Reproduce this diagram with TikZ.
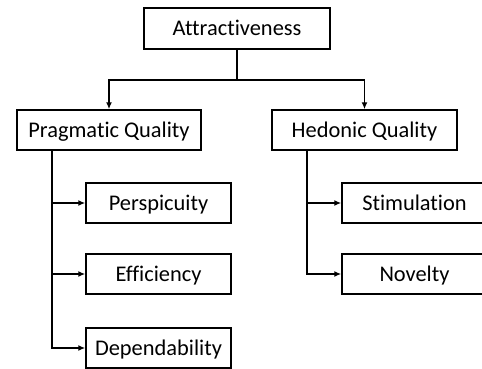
\documentclass[tikz,border=0pt]{standalone}
\usepackage{fontspec}
\setmainfont[Ligatures={NoCommon,NoContextual}]{Carlito}
\usetikzlibrary{arrows.meta}

\tikzset{
	box/.style={draw, line width=1.5pt, minimum height=40pt, inner sep=0pt, text height=14.4pt, text depth=0pt, font=\fontsize{22.4}{26}\selectfont},
	link/.style={line width=1.5pt},
	arr/.style={link, -{Latex[length=7pt,width=6pt]}}
}

\begin{document}
\begin{tikzpicture}[x=1pt, y=-1pt]
		\useasboundingbox (0,0) rectangle (482,368);
		
		% top
		\node[box, minimum width=186pt, minimum height=41pt] (attr) at (237,28.5) {Attractiveness};
		
		% second level
		\node[box, minimum width=184pt] (prag) at (109,130) {Pragmatic Quality};
		\node[box, minimum width=185pt] (hed) at (364.5,130) {Hedonic Quality};
		
		% third level
		\node[box, minimum width=145pt] (persp) at (158.5,203) {Perspicuity};
		\node[box, minimum width=145pt] (eff) at (158.5,274) {Efficiency};
		\node[box, minimum width=145pt] (dep) at (158.5,348) {Dependability};
		\node[box, minimum width=145pt] (stim) at (414.5,203) {Stimulation};
		\node[box, minimum width=145pt] (nov) at (414.5,274) {Novelty};
		
		% attractiveness split
		\draw[link] (attr.south) -- ++(0,30) coordinate (split);
		\draw[arr] (split) -| (prag.north);
		\draw[arr] (split) -| (hed.north);
		
		% pragmatic branch
		\coordinate (ptrunk) at (52,150);
		\draw[arr] (ptrunk) |- (dep.west);
		\draw[arr] (ptrunk |- persp.west) -- (persp.west);
		\draw[arr] (ptrunk |- eff.west) -- (eff.west);
		
		% hedonic branch
		\coordinate (htrunk) at (307,150);
		\draw[arr] (htrunk) |- (nov.west);
		\draw[arr] (htrunk |- stim.west) -- (stim.west);
	\end{tikzpicture}
\end{document}
